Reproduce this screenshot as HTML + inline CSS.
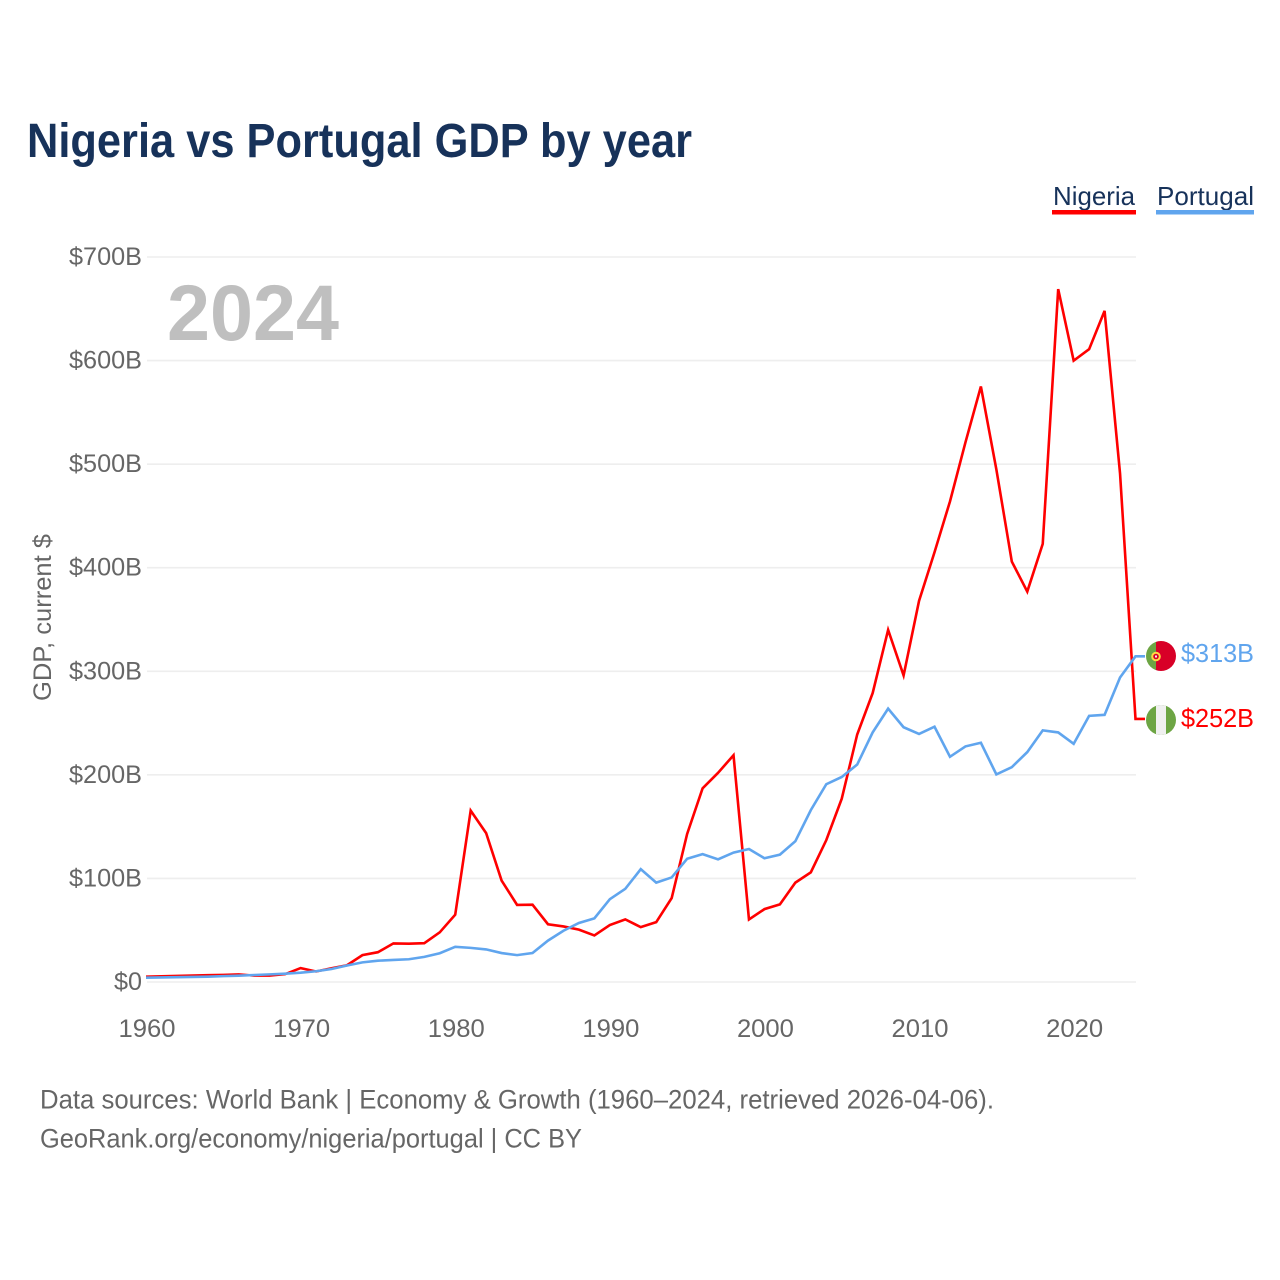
<!DOCTYPE html>
<html lang="en">
<head>
<meta charset="utf-8">
<title>Nigeria vs Portugal GDP by year</title>
<style>
html,body{margin:0;padding:0;background:#fff;}
svg{display:block;font-family:"Liberation Sans",sans-serif;}
</style>
</head>
<body>
<svg id="chart" xmlns="http://www.w3.org/2000/svg" width="1280" height="1280" viewBox="0 0 1280 1280">
  <rect x="0" y="0" width="1280" height="1280" fill="#ffffff"/>
  <text x="27" y="157" font-size="48" font-weight="700" fill="#17325a" textLength="665" lengthAdjust="spacingAndGlyphs">Nigeria vs Portugal GDP by year</text>

  <g>
    <g>
      <text x="1053" y="205" font-size="26" fill="#17325a" textLength="82" lengthAdjust="spacingAndGlyphs">Nigeria</text>
      <rect x="1052" y="210" width="84" height="4.5" fill="#ff0000"/>
    </g>
    <g>
      <text x="1157" y="205" font-size="26" fill="#17325a" textLength="97" lengthAdjust="spacingAndGlyphs">Portugal</text>
      <rect x="1156" y="210" width="98" height="4.5" fill="#60a5ee"/>
    </g>
  </g>

  <g id="grid"></g>
  <g id="yticks"></g>
  <g id="xticks"></g>

  <text x="167" y="340" font-size="79" font-weight="700" fill="#bfbfbf" textLength="172" lengthAdjust="spacingAndGlyphs">2024</text>

  <text transform="translate(51,701) rotate(-90)" font-size="25" fill="#666666" textLength="167" lengthAdjust="spacingAndGlyphs">GDP, current $</text>

  <g id="series" transform="translate(-1,-1)"></g>

  <g id="flag-portugal">
    <clipPath id="clip-pt"><circle cx="1161" cy="656" r="15"/></clipPath>
    <g clip-path="url(#clip-pt)">
      <rect x="1146" y="641" width="10" height="30" fill="#6da544"/>
      <rect x="1156" y="641" width="20" height="30" fill="#d80027"/>
    </g>
    <circle cx="1156" cy="656.5" r="3.8" fill="#d80027" stroke="#ffda44" stroke-width="2"/>
    <rect x="1155" y="655.5" width="2" height="2" fill="#f0f0f0"/>
  </g>
  <g id="flag-nigeria">
    <clipPath id="clip-ng"><circle cx="1161" cy="720" r="15"/></clipPath>
    <g clip-path="url(#clip-ng)">
      <rect x="1146" y="705" width="30" height="30" fill="#6da544"/>
      <rect x="1156" y="705" width="10" height="30" fill="#f0f0f0"/>
    </g>
  </g>

  <text id="label-portugal" x="1181" y="662" font-size="26" fill="#60a5ee" textLength="73" lengthAdjust="spacingAndGlyphs"></text>
  <text id="label-nigeria" x="1181" y="727" font-size="26" fill="#ff0000" textLength="73" lengthAdjust="spacingAndGlyphs"></text>

  <text x="40" y="1108.5" font-size="26.5" fill="#666666" textLength="954" lengthAdjust="spacingAndGlyphs">Data sources: World Bank | Economy &amp; Growth (1960–2024, retrieved 2026-04-06).</text>
  <a><text x="40" y="1147.5" font-size="26.5" fill="#666666" textLength="542" lengthAdjust="spacingAndGlyphs">GeoRank.org/economy/nigeria/portugal | CC BY</text></a>
</svg>
<script>
const years = [1960,1961,1962,1963,1964,1965,1966,1967,1968,1969,1970,1971,1972,1973,1974,1975,1976,1977,1978,1979,1980,1981,1982,1983,1984,1985,1986,1987,1988,1989,1990,1991,1992,1993,1994,1995,1996,1997,1998,1999,2000,2001,2002,2003,2004,2005,2006,2007,2008,2009,2010,2011,2012,2013,2014,2015,2016,2017,2018,2019,2020,2021,2022,2023,2024];
const nigeriaValues = [4.2,4.5,4.9,5.2,5.6,5.9,6.4,5.2,5.2,6.6,12.5,9.2,12.3,15.2,25,27.8,36.3,36,36.5,47,64,164.5,142.8,97,73.5,73.7,54.8,52.7,49.6,44,54,59.5,52,56.8,80,142,186,201,218,59.4,69.4,74,95,104.9,136,176,238,278,339,295,367,414,463,520,574,494,405,376,422,668,599,610,647,490,253];
const portugalValues = [3.2,3.4,3.7,3.95,4.2,4.7,5.1,5.8,6.4,7.1,8,9.4,11.6,15,18,19.6,20.3,21,23.3,26.8,33,32,30.5,27,25,27,39,48.5,56,60.5,79,89,108,95,100,118,122.5,117.5,124,127.5,118.5,122,135,165,190,197,209,240,263,245,238.5,245.5,216.5,226.5,230,199.5,206.5,221,242,240,229,256,257,293,313.5];
const yTickValues = [0,100,200,300,400,500,600,700];
const yTickLabels = ["$0","$100B","$200B","$300B","$400B","$500B","$600B","$700B"];
const xTickYears = [1960,1970,1980,1990,2000,2010,2020];
const endLabelNigeria = "$252B";
const endLabelPortugal = "$313B";

const NS = "http://www.w3.org/2000/svg";
function xScale(year){ return 147 + (year - 1960) * (1136.5 - 147) / 64; }
function yScale(v){ return 982 - v * (982 - 257) / 700; }
function make(tag, attrs, parent){
  const el = document.createElementNS(NS, tag);
  for (const k in attrs) el.setAttribute(k, attrs[k]);
  parent.appendChild(el);
  return el;
}

const gridG = document.getElementById("grid");
const yG = document.getElementById("yticks");
yTickValues.forEach(function(v, i){
  const line = make("line", {x1:147, x2:1136, y1:yScale(v), y2:yScale(v), stroke:"#eeeeee", "stroke-width":1.6}, gridG);
  
  
  const t = make("text", {x:142, y:yScale(v)+8, "text-anchor":"end", "font-size":25, fill:"#666666", textLength: v === 0 ? 28 : 73, lengthAdjust:"spacingAndGlyphs"}, yG);
  
  
  t.textContent = yTickLabels[i];
});

const xG = document.getElementById("xticks");
xTickYears.forEach(function(year){
  const t = make("text", {x:xScale(year), y:1037, "text-anchor":"middle", "font-size":25, fill:"#666666", textLength:57, lengthAdjust:"spacingAndGlyphs"}, xG);
  
  
  t.textContent = year;
});

const seriesG = document.getElementById("series");
function drawSeries(values, color, name){
  const pts = values.map(function(v, i){ return xScale(years[i]).toFixed(2) + "," + yScale(v).toFixed(2); });
  const last = values[values.length - 1];
  pts.push("1146," + yScale(last).toFixed(2));
  const p = make("polyline", {points:pts.join(" "), fill:"none", stroke:color, "stroke-width":2.6, "stroke-linejoin":"miter"}, seriesG);
  
  
}
drawSeries(nigeriaValues, "#ff0000", "nigeria-line");
drawSeries(portugalValues, "#60a5ee", "portugal-line");

document.getElementById("label-nigeria").textContent = endLabelNigeria;
document.getElementById("label-portugal").textContent = endLabelPortugal;
</script>
</body>
</html>
